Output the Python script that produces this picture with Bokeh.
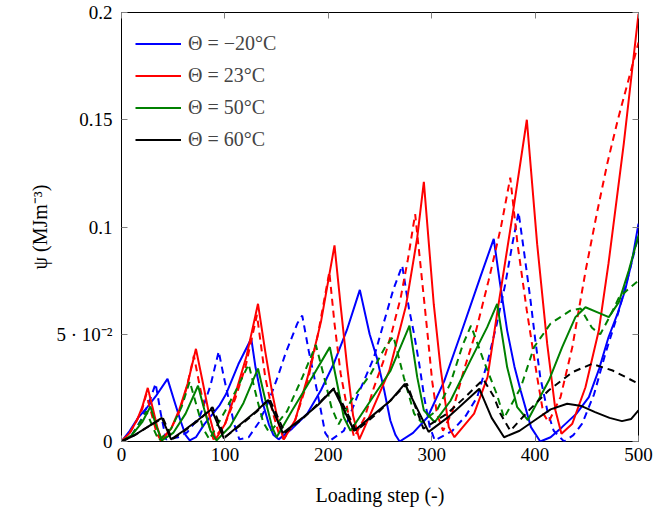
import math
from bokeh.plotting import figure
from bokeh.models import (Range1d, FixedTicker, CustomJSTickFormatter, LinearAxis,
                          Legend, LegendItem)
from bokeh.embed import file_html
from bokeh.resources import INLINE

# ---------------- data ----------------
# Theta = -20 C
blue_solid_x = [0, 8, 16, 25, 33, 44.5, 51, 57, 62, 66, 72, 80, 95, 101, 113, 125.5,
                129.6, 136, 142.5, 147, 152, 165, 179.6, 193, 205, 218, 230.5,
                240, 247, 254, 260, 265, 269, 282, 296, 312, 328, 347, 360,
                366, 373, 380, 386, 396, 405, 415, 426, 440, 452, 462, 471, 480, 487, 494, 500]
blue_solid_y = [0, 0.005, 0.011, 0.016, 0.021, 0.0292, 0.019, 0.0098, 0.003, 0.0005, 0.002, 0.008, 0.017, 0.022, 0.036, 0.048,
                0.0346, 0.019, 0.008, 0.003, 0.001, 0.006, 0.0129, 0.024, 0.036, 0.052, 0.0707,
                0.050, 0.039, 0.024, 0.0098, 0.003, 0.0, 0.004, 0.0113, 0.028, 0.050, 0.0766, 0.0945,
                0.074, 0.0517, 0.035, 0.0238, 0.0067, 0.0, 0.002, 0.0067, 0.013, 0.0207, 0.034, 0.0486, 0.060, 0.0704, 0.085, 0.1016]
blue_dash_x = [0, 10, 20, 28, 33, 38, 43, 55, 63.5, 76, 86, 94, 99, 104, 109, 114,
               123, 133, 142.5, 151, 158.6, 170, 174.8, 181, 186, 191, 197, 202,
               215, 228, 244, 254, 263, 271.5, 278, 283, 288, 293, 298, 303,
               320, 333, 344, 354, 363, 371, 378, 384, 390, 395.6, 400, 405, 412, 418, 428,
               437, 445.5, 457, 468, 481, 490, 500]
blue_dash_y = [0, 0.003, 0.011, 0.020, 0.027, 0.013, 0.001, 0.002, 0.0043, 0.012, 0.026, 0.042, 0.030, 0.019, 0.008, 0.001,
               0.002, 0.009, 0.019, 0.030, 0.041, 0.055, 0.0587, 0.0424, 0.031, 0.019, 0.004, 0.0005,
               0.005, 0.021, 0.039, 0.056, 0.071, 0.082, 0.062, 0.050, 0.036, 0.020, 0.007, 0.0005,
               0.005, 0.012, 0.0207, 0.037, 0.0549, 0.073, 0.092, 0.1069, 0.086, 0.0657, 0.048, 0.030, 0.014, 0.005, 0.0,
               0.003, 0.0083, 0.022, 0.041, 0.061, 0.077, 0.096]

# Theta = 23 C
red_solid_x = [0, 8, 15, 20, 25.4, 30, 35, 39, 48, 56, 64, 72, 78, 85, 91,
               100, 110, 121, 132, 139, 146, 152, 157, 168, 180, 193, 206,
               212, 218, 224, 230, 241, 259, 275, 286, 292.4, 302, 308.5, 316.5, 322,
               341, 354, 364, 378, 392, 402, 411.7, 419.7, 425.5,
               436, 448.7, 461.6, 471, 485.8, 500]
red_solid_y = [0, 0.004, 0.010, 0.016, 0.025, 0.016, 0.006, 0.0005, 0.006, 0.015, 0.027, 0.0432, 0.029, 0.012, 0.001,
               0.008, 0.022, 0.040, 0.0642, 0.042, 0.022, 0.008, 0.001, 0.010, 0.030, 0.056, 0.0914,
               0.063, 0.036, 0.012, 0.001, 0.013, 0.033, 0.063, 0.095, 0.121, 0.064, 0.0346, 0.0067, 0.002,
               0.013, 0.030, 0.062, 0.105, 0.150, 0.092, 0.0455, 0.0145, 0.0036,
               0.0083, 0.0253, 0.0517, 0.083, 0.139, 0.1994]
red_dash_x = [0, 8, 15, 20, 24, 29, 34, 38, 48, 56, 63, 70, 76, 83, 89,
              100, 110, 120, 131, 139, 146, 152, 157, 168, 180, 190, 201,
              206, 212, 220, 225, 235, 244, 253, 262, 270, 277, 284,
              289, 295.6, 300.5, 305, 311, 320, 331, 342, 355, 367, 376,
              383, 392, 402, 408, 413, 424.6, 436, 449, 460, 470, 480, 490, 500]
red_dash_y = [0, 0.004, 0.010, 0.015, 0.022, 0.013, 0.004, 0.0005, 0.006, 0.014, 0.025, 0.040, 0.025, 0.010, 0.001,
              0.008, 0.020, 0.035, 0.059, 0.030, 0.014, 0.004, 0.001, 0.010, 0.028, 0.050, 0.079,
              0.055, 0.0315, 0.0113, 0.002, 0.011, 0.025, 0.037, 0.052, 0.067, 0.085, 0.106,
              0.083, 0.052, 0.028, 0.013, 0.005, 0.014, 0.033, 0.050, 0.075, 0.100, 0.123,
              0.092, 0.061, 0.030, 0.013, 0.009, 0.0207, 0.044, 0.080, 0.107, 0.130, 0.150, 0.168, 0.186]

# Theta = 50 C
green_solid_x = [0, 10, 20, 28, 33, 39, 50, 62, 74, 80, 86, 92, 105, 118, 132,
                 139.3, 145.7, 150, 165, 184.4, 201.5, 208.6, 215, 221.5, 240.8, 260.2, 278.5,
                 286, 292.4, 303, 318.2, 337.5, 353.7, 363.3, 373, 382.7, 393,
                 413.3, 426.2, 439, 448.7, 461.6, 471.3, 481, 490.6, 500]
green_solid_y = [0, 0.003, 0.009, 0.0163, 0.008, 0.0005, 0.004, 0.013, 0.026, 0.015, 0.005, 0.0005, 0.007, 0.018, 0.034,
                 0.019, 0.0067, 0.002, 0.0145, 0.030, 0.044, 0.0269, 0.0113, 0.005, 0.019, 0.033, 0.054,
                 0.030, 0.0145, 0.009, 0.019, 0.0378, 0.0533, 0.0642, 0.0346, 0.016, 0.010,
                 0.0284, 0.044, 0.058, 0.0626, 0.060, 0.058, 0.065, 0.0797, 0.096]
green_dash_x = [0, 10, 18, 24, 30, 36, 48, 58, 66, 73, 79, 85, 100, 112, 123, 131, 137, 143,
                160, 175, 188, 196, 203, 210, 222, 241, 255, 263, 273, 283, 290,
                305, 318, 330, 338, 350, 363, 370, 386, 399, 415, 434, 444,
                455, 463, 472, 481, 490, 500]
green_dash_y = [0, 0.003, 0.009, 0.014, 0.007, 0.0005, 0.006, 0.016, 0.028, 0.016, 0.006, 0.001, 0.014, 0.025, 0.036, 0.020, 0.009, 0.004,
                0.014, 0.030, 0.045, 0.030, 0.016, 0.008, 0.019, 0.0315, 0.044, 0.049, 0.030, 0.013, 0.009,
                0.0145, 0.027, 0.045, 0.054, 0.038, 0.022, 0.011, 0.025, 0.044, 0.055, 0.061, 0.062,
                0.053, 0.050, 0.058, 0.067, 0.071, 0.075]

# Theta = 60 C
black_solid_x = [0, 12, 25, 39, 48, 60, 74, 87, 99, 115, 130, 142, 156, 175, 190, 205, 225,
                 245, 260, 274, 297, 315, 331, 346, 358, 370, 385, 400, 415, 431,
                 445, 458, 472, 484, 493, 500]
black_solid_y = [0, 0.0028, 0.0067, 0.011, 0.001, 0.005, 0.010, 0.015, 0.0015, 0.008, 0.014, 0.0194, 0.004, 0.011, 0.017, 0.0246, 0.005,
                 0.013, 0.019, 0.0269, 0.0045, 0.011, 0.018, 0.0246, 0.011, 0.002, 0.005, 0.010, 0.015, 0.0176,
                 0.0165, 0.0137, 0.011, 0.0095, 0.0105, 0.0145]
black_dash_x = [0, 13, 26, 40, 49, 61, 75, 88, 100, 116, 131, 143, 158, 176, 191, 206, 227,
                247, 262, 276, 292, 315, 333, 350, 360, 366.5, 376, 394, 413, 436,
                455, 475, 497, 500]
black_dash_y = [0, 0.003, 0.007, 0.011, 0.001, 0.005, 0.010, 0.016, 0.002, 0.008, 0.014, 0.020, 0.004, 0.011, 0.018, 0.025, 0.005,
                0.013, 0.020, 0.027, 0.006, 0.013, 0.021, 0.029, 0.021, 0.0129, 0.005, 0.0145, 0.0238, 0.0323,
                0.0362, 0.0331, 0.0277, 0.027]

legend_labels = ["Θ = −20°C", "Θ = 23°C", "Θ = 50°C", "Θ = 60°C"]
x_ticks = [0, 100, 200, 300, 400, 500]
y_ticks = [0, 0.05, 0.1, 0.15, 0.2]

FONT = "Liberation Serif"

p = figure(width=656, height=523, output_backend="svg", toolbar_location=None,
           x_range=Range1d(0, 500), y_range=Range1d(0, 0.2),
           min_border_left=121, min_border_right=18, min_border_top=12, min_border_bottom=82)
p.background_fill_color = "white"
p.border_fill_color = "white"
p.outline_line_color = "black"
p.outline_line_width = 1
p.grid.visible = False

series = [
    (blue_solid_x, blue_solid_y, blue_dash_x, blue_dash_y, "#0000ff"),
    (red_solid_x, red_solid_y, red_dash_x, red_dash_y, "#ff0000"),
    (green_solid_x, green_solid_y, green_dash_x, green_dash_y, "#008000"),
    (black_solid_x, black_solid_y, black_dash_x, black_dash_y, "#000000"),
]
items = []
for (sx, sy, dx, dy, col), lab in zip(series, legend_labels):
    p.line(dx, dy, line_color=col, line_width=2, line_dash="7 5")
    r = p.line(sx, sy, line_color=col, line_width=2)
    items.append(LegendItem(label=lab, renderers=[r]))

legend = Legend(items=items, location=(14, 290), padding=0, margin=0,
                glyph_width=46, glyph_height=23, label_height=23, spacing=9,
                label_standoff=7, label_text_font=FONT, label_text_font_size="20px",
                border_line_color=None, background_fill_color="white", background_fill_alpha=0.0)
p.add_layout(legend)

# axes
xa = p.xaxis[0]
xa.ticker = FixedTicker(ticks=x_ticks)
ya = p.yaxis[0]
ya.ticker = FixedTicker(ticks=y_ticks)
ya.formatter = CustomJSTickFormatter(code="""
if (Math.abs(tick - 0.05) < 1e-9) { return "5 \u00b7 10\u207b\u00b2"; }
return (Math.round(tick * 1000) / 1000).toString();
""")
for ax in (xa, ya):
    ax.axis_line_color = None
    ax.major_tick_in = 6
    ax.major_tick_out = 0
    ax.minor_tick_line_color = None
    ax.major_tick_line_color = "#808080"
    ax.major_label_text_font = FONT
    ax.major_label_text_font_size = "19px"
    ax.major_label_text_color = "black"
    ax.axis_label_text_font = FONT
    ax.axis_label_text_font_size = "20px"
    ax.axis_label_text_font_style = "normal"
    ax.axis_label_text_color = "black"
xa.major_label_standoff = 6
ya.major_label_standoff = 9
xa.axis_label = "Loading step (-)"
xa.axis_label_standoff = 20
ya.axis_label = "ψ (MJm⁻³)"
ya.axis_label_standoff = 2

# mirror axes (ticks only)
blank = CustomJSTickFormatter(code="return '';")
top = LinearAxis(ticker=FixedTicker(ticks=x_ticks), formatter=blank, axis_line_color=None,
                 major_tick_in=6, major_tick_out=0, minor_tick_line_color=None,
                 major_tick_line_color="#808080", major_label_standoff=0)
right = LinearAxis(ticker=FixedTicker(ticks=y_ticks), formatter=blank, axis_line_color=None,
                   major_tick_in=6, major_tick_out=0, minor_tick_line_color=None,
                   major_tick_line_color="#808080", major_label_standoff=0)
p.add_layout(top, "above")
p.add_layout(right, "right")

open("out.html", "w").write(file_html(p, INLINE))
